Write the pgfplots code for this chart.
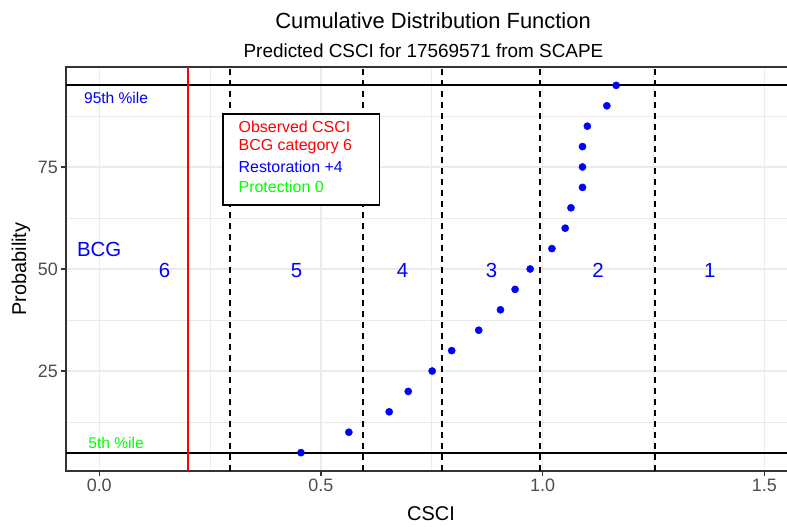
\documentclass[border=0pt]{standalone}
\usepackage{fontspec}
\setmainfont{Liberation Sans}
\usepackage{pgfplots}
\pgfplotsset{compat=1.18}
\definecolor{gridc}{HTML}{EBEBEB}
\definecolor{tickc}{HTML}{4D4D4D}
\definecolor{borderc}{HTML}{333333}
\definecolor{lgreen}{HTML}{00FF00}
\definecolor{pblue}{HTML}{0000FF}
\tikzset{
  catlab/.style={inner sep=0pt, text=pblue, font=\fontsize{20.5}{22}\selectfont},
  boxtxt/.style={anchor=west, inner sep=0pt, font=\fontsize{16}{18}\selectfont},
  vdash/.style={black, line width=1.9bp, dash pattern=on 5.5bp off 5.5bp},
}
\begin{document}
\begin{tikzpicture}
\begin{axis}[
  at={(66bp,56bp)}, anchor=south west,
  scale only axis, width=731.5bp, height=404bp,
  xmin=-0.075, xmax=1.575, ymin=0.5, ymax=99.5,
  xtick={0,0.5,1,1.5}, xticklabels={0.0,0.5,1.0,1.5},
  ytick={25,50,75},
  minor xtick={0.25,0.75,1.25}, minor ytick={12.5,37.5,62.5,87.5},
  grid=both,
  major grid style={gridc, line width=1.5bp},
  minor grid style={gridc, line width=0.75bp},
  axis line style={borderc, line width=1.5bp},
  tick style={borderc, line width=1.3bp},
  tick align=outside, major tick length=4.6bp, minor tick length=0pt,
  xtick pos=bottom, ytick pos=left,
  ticklabel style={font=\fontsize{18}{20}\selectfont, text=tickc},
  /pgf/number format/assume math mode=true,
  clip=false,
]
% horizontal percentile lines
\addplot[black, line width=2bp] coordinates {(-0.075,95) (1.575,95)};
\addplot[black, line width=2bp] coordinates {(-0.075,5) (1.575,5)};
% category boundaries
\addplot[vdash] coordinates {(0.295,0.5) (0.295,99.5)};
\addplot[vdash] coordinates {(0.5955,0.5) (0.5955,99.5)};
\addplot[vdash] coordinates {(0.774,0.5) (0.774,99.5)};
\addplot[vdash] coordinates {(0.995,0.5) (0.995,99.5)};
\addplot[vdash] coordinates {(1.2545,0.5) (1.2545,99.5)};
% observed CSCI
\addplot[red, line width=1.6bp] coordinates {(0.2,0.5) (0.2,99.5)};
% predicted CSCI quantiles
\addplot[only marks, mark=*, mark size=3.6bp, pblue, mark options={draw=pblue, fill=pblue}] coordinates {
(0.455,5) (0.563,10) (0.654,15) (0.697,20) (0.751,25) (0.795,30) (0.856,35) (0.905,40) (0.938,45) (0.972,50)
(1.021,55) (1.051,60) (1.064,65) (1.090,70) (1.090,75) (1.090,80) (1.101,85) (1.145,90) (1.166,95)};
% annotation box
\draw[black, line width=1.5bp, fill=white] (axis cs:0.279,88.0) rectangle (axis cs:0.632,65.7);
\node[boxtxt, text=red] at (axis cs:0.314,84.9) {Observed CSCI};
\node[boxtxt, text=red] at (axis cs:0.314,79.9) {BCG category 6};
\node[boxtxt, text=pblue] at (axis cs:0.314,75.0) {Restoration +4};
\node[boxtxt, text=lgreen] at (axis cs:0.314,70.1) {Protection 0};
% labels
\node[inner sep=0pt, text=pblue, font=\fontsize{15.6}{18}\selectfont] at (axis cs:0.038,91.8) {95th \%ile};
\node[inner sep=0pt, text=lgreen, font=\fontsize{15.6}{18}\selectfont] at (axis cs:0.038,7.4) {5th \%ile};
\node[catlab] at (axis cs:0.0,54.7) {BCG};
\node[catlab] at (axis cs:0.1475,49.7) {6};
\node[catlab] at (axis cs:0.445,49.7) {5};
\node[catlab] at (axis cs:0.684,49.7) {4};
\node[catlab] at (axis cs:0.885,49.7) {3};
\node[catlab] at (axis cs:1.125,49.7) {2};
\node[catlab] at (axis cs:1.377,49.7) {1};
\end{axis}
\node[anchor=base, font=\fontsize{22}{24}\selectfont] at (433bp,498.7bp) {Cumulative Distribution Function};
\node[anchor=base, font=\fontsize{19}{21}\selectfont] at (423.5bp,469.5bp) {Predicted CSCI for 17569571 from SCAPE};
\node[anchor=base, font=\fontsize{20}{22}\selectfont] at (431bp,6.3bp) {CSCI};
\node[anchor=base, rotate=90, font=\fontsize{20}{22}\selectfont] at (26bp,258bp) {Probability};
\pgfresetboundingbox
\path[use as bounding box] (0,0) rectangle (787bp,527bp);
\end{tikzpicture}
\end{document}
